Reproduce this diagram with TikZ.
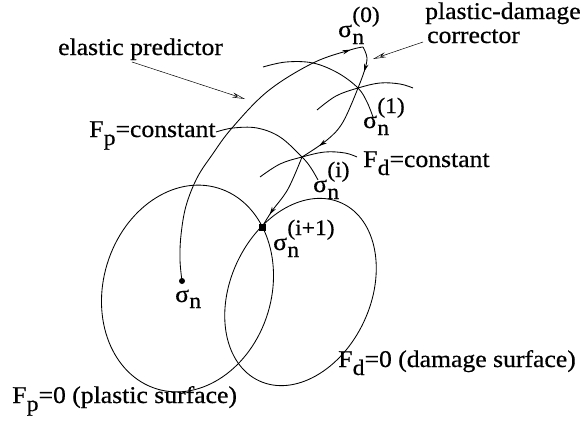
\documentclass[tikz,border=0pt]{standalone}
\usepackage{fontspec}
\setmainfont{Liberation Serif}[FakeStretch=1.07,FakeBold=0.6]
\usetikzlibrary{arrows.meta,decorations.markings}
\newcommand\bigtxt{\fontsize{24}{28}\selectfont}
\newcommand\subtxt{\fontsize{22}{24}\selectfont}
\newcommand\Fsub[1]{F\kern0.3pt\raisebox{-8pt}{\subtxt #1}}
\newcommand\sigup[1]{σ\kern0.3pt\rlap{\raisebox{-7pt}{\subtxt n}}\raisebox{15pt}{\subtxt #1}}
\tikzset{
  curve/.style={line width=0.85pt},
  leader/.style={line width=0.5pt,-{Stealth[open,length=13pt,width=5pt]}},
  txt/.style={inner sep=0pt,anchor=base west,font=\bigtxt},
  midarrow/.style={decoration={markings,mark=at position #1 with {\arrow{Stealth[length=8pt,width=4.5pt]}}},postaction=decorate}
}
\begin{document}
\begin{tikzpicture}[x=1pt,y=-1pt]
\useasboundingbox (0,0) rectangle (586,423);
% key points
\coordinate (sn) at (182,281);
\coordinate (s0) at (363,47);
\coordinate (s1) at (358,88);
\coordinate (si) at (302,157);
\coordinate (si1) at (262,227);
\coordinate (pcen) at (187.5,288.5);
\coordinate (dcen) at (300.5,292);
% plastic surface
\draw[curve,rotate around={73:(pcen)}] (pcen) ellipse [x radius=105, y radius=84];
% damage surface
\draw[curve,rotate around={65:(dcen)}] (dcen) ellipse [x radius=98, y radius=70];
% level sets
\draw[curve] plot[smooth,tension=0.6] coordinates {(263,67) (286,62) (313,63) (338,73) (s1) (367,102) (373,117)};
\draw[curve] plot[smooth,tension=0.6] coordinates {(317,110) (336,96) (s1) (380,83) (400,84) (413,88)};
\draw[curve] plot[smooth,tension=0.6] coordinates {(216,132) (233,128) (257,128) (280,137) (si) (311,168) (318,180)};
\draw[curve] plot[smooth,tension=0.6] coordinates {(260,177) (280,164) (si) (325,152) (345,153) (357,157)};
% elastic predictor path
\draw[curve,midarrow=0.96] plot[smooth,tension=0.6] coordinates {(sn) (180,260) (181,235) (186,206) (197,178) (212,155) (232,128) (268,91) (313,63) (350,50) (s0)};
% corrector path
\draw[curve,midarrow=0.6] plot[smooth,tension=0.6] coordinates {(s0) (367,58) (364,72) (s1)};
\draw[curve,midarrow=0.78] plot[smooth,tension=0.6] coordinates {(s1) (343,122) (327,140) (si)};
\draw[curve,midarrow=0.82] plot[smooth,tension=0.6] coordinates {(si) (288,189) (272,211) (si1)};
% dots
\fill (sn) circle (3pt);
\fill ([shift={(-3.5,-3.5)}]si1) rectangle ([shift={(3.5,3.5)}]si1);
% labels
\node[txt] (lep) at (58,55) {elastic predictor};
\node[txt] (lpd) at (425,19) {plastic-damage};
\node[txt] (lco) at (427,43) {corrector};
\node[txt] (lfpc) at (89,137) {\Fsub{p}=constant};
\node[txt] (lfdc) at (363,167) {\Fsub{d}=constant};
\node[txt] (lfd0) at (338,367) {\Fsub{d}=0 (damage surface)};
\node[txt] (lfp0) at (12,403) {\Fsub{p}=0 (plastic surface)};
\node[txt] (lsn) at (175,302) {σ\kern0.3pt\raisebox{-6pt}{\subtxt n}};
\node[txt] (ls0) at (338,37) {\sigup{(0)}};
\node[txt] (ls1) at (363,128) {\sigup{(1)}};
\node[txt] (lsi) at (313,192) {\sigup{(i)}};
\node[txt] (lsi1) at (273,250) {\sigup{(i+1)}};
% leaders
\coordinate (ep) at (245,99);
\coordinate (pc) at (373,59);
\draw[leader] (132,62) -- (ep);
\draw[leader] (423,42) -- (pc);
\end{tikzpicture}
\end{document}
